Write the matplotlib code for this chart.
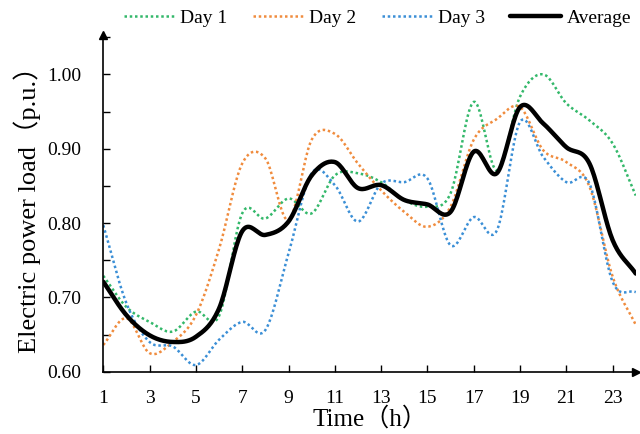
import numpy as np
import matplotlib
matplotlib.use("Agg")
import matplotlib.pyplot as plt
from matplotlib.ticker import MultipleLocator, FixedLocator

plt.rcParams['font.family'] = ['Liberation Serif', 'Noto Sans CJK SC', 'DejaVu Sans']

hours = list(range(1, 25))
day1 = [0.729, 0.687, 0.667, 0.654, 0.681, 0.675, 0.813, 0.806, 0.833, 0.813, 0.864, 0.867,
        0.855, 0.831, 0.822, 0.840, 0.963, 0.871, 0.970, 1.000, 0.961, 0.938, 0.907, 0.837]
day2 = [0.636, 0.672, 0.625, 0.640, 0.676, 0.765, 0.880, 0.887, 0.804, 0.912, 0.920, 0.880,
        0.844, 0.815, 0.795, 0.822, 0.912, 0.940, 0.956, 0.898, 0.882, 0.849, 0.728, 0.663]
day3 = [0.797, 0.692, 0.640, 0.634, 0.609, 0.643, 0.667, 0.656, 0.759, 0.867, 0.851, 0.802,
        0.853, 0.855, 0.860, 0.770, 0.808, 0.790, 0.936, 0.889, 0.855, 0.853, 0.721, 0.707]
average = [0.721, 0.676, 0.649, 0.640, 0.647, 0.685, 0.789, 0.784, 0.802, 0.864, 0.882, 0.847,
           0.851, 0.831, 0.825, 0.815, 0.896, 0.867, 0.956, 0.934, 0.902, 0.880, 0.777, 0.732]
series_names = ['Day 1', 'Day 2', 'Day 3', 'Average']
xticks = list(range(1, 24, 2))
yticks = [0.60, 0.70, 0.80, 0.90, 1.00]


def smooth(x, y, n=20):
    """Catmull-Rom spline through the points (like a smoothed line)."""
    x = np.asarray(x, float)
    y = np.asarray(y, float)
    px = np.concatenate([[2 * x[0] - x[1]], x, [2 * x[-1] - x[-2]]])
    py = np.concatenate([[2 * y[0] - y[1]], y, [2 * y[-1] - y[-2]]])
    xs, ys = [], []
    t = np.linspace(0, 1, n, endpoint=False)
    for i in range(1, len(px) - 2):
        for arr, out in ((px, xs), (py, ys)):
            p0, p1, p2, p3 = arr[i - 1], arr[i], arr[i + 1], arr[i + 2]
            out.extend(0.5 * ((2 * p1) + (-p0 + p2) * t + (2 * p0 - 5 * p1 + 4 * p2 - p3) * t ** 2
                              + (-p0 + 3 * p1 - 3 * p2 + p3) * t ** 3))
    xs.append(x[-1])
    ys.append(y[-1])
    return np.array(xs), np.array(ys)


fig = plt.figure(figsize=(6.4, 4.34), dpi=100)
ax = fig.add_axes([0.1614, 0.1435, 0.832, 0.776])

colors = ['#33b86a', '#f08c3e', '#3b8fd6']
for vals, c, name in zip([day1, day2, day3], colors, series_names[:3]):
    sx, sy = smooth(hours, vals)
    ax.plot(sx, sy, color=c, lw=1.8, linestyle=(0, (1, 1.1)), label=name)
sx, sy = smooth(hours, average)
ax.plot(sx, sy, color='black', lw=3.2, label=series_names[3], solid_capstyle='round')

ax.set_xlim(1, 24)
ax.set_ylim(0.6, 1.053)
ax.xaxis.set_major_locator(FixedLocator(xticks))
ax.yaxis.set_major_locator(FixedLocator(yticks))
ax.yaxis.set_minor_locator(MultipleLocator(0.05))
ax.set_yticklabels([f"{v:.2f}" for v in yticks])
ax.tick_params(axis='both', which='both', direction='in', length=5, width=1.0,
               labelsize=14, colors='black')
ax.tick_params(axis='x', pad=13)
ax.tick_params(axis='y', pad=16)

for s in ['top', 'right']:
    ax.spines[s].set_visible(False)
for s in ['left', 'bottom']:
    ax.spines[s].set_linewidth(1.2)

ax.plot(1, 0, marker='>', color='black', markersize=6, transform=ax.transAxes, clip_on=False)
ax.plot(0, 1, marker='^', color='black', markersize=6, transform=ax.transAxes, clip_on=False)

ax.set_xlabel('Time（h）', fontsize=18, labelpad=0)
ax.set_ylabel('Electric power load（p.u.）', fontsize=19, labelpad=4)

leg = fig.legend(loc='center', bbox_to_anchor=(0.59, 0.958), ncol=4, frameon=False,
                 fontsize=14, handlelength=2.6, handletextpad=0.3, columnspacing=1.3)

fig.savefig('out.png', dpi=100)
